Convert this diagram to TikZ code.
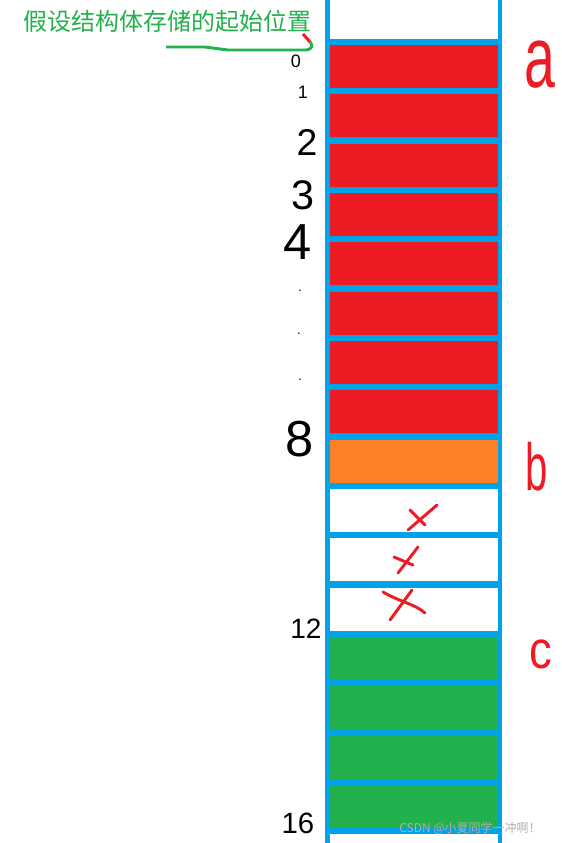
\documentclass[tikz,border=0pt]{standalone}
\usepackage{tikz}
\usetikzlibrary{positioning}
\usepackage{xcolor}
\usepackage{fontspec}
\setmainfont{Liberation Sans}
\newfontfamily\cjk{Noto Sans CJK SC}

\tikzset{
  cellbox/.style={inner sep=0pt, minimum width=126pt, minimum height=32.25pt},
  crossline/.style={line width=2.2pt, color={rgb, 255:red, 237; green, 28; blue, 36 }, line cap=round}
}

\begin{document}
\begin{tikzpicture}[x=0.75pt,y=0.75pt,yscale=-1,xscale=1]
%set diagram left start at 0, and has height of 843
\path[use as bounding box] (0,0) rectangle (561,843);

%Shape: Rectangle [id:dp1046] 
\fill [color={rgb, 255:red, 0; green, 162; blue, 232 }] (325,0) rectangle (502,843) ;
%Shape: Rectangle [id:dp2213] 
\fill [white] (330,0) rectangle (498,39) ;
%Shape: Rectangle [id:dp2871] 
\fill [white] (330,834) rectangle (498,843) ;

%Shape: Rectangle [id:dp3310] 
\node (cell0) [cellbox, fill={rgb, 255:red, 237; green, 28; blue, 36 }] at (414,66.5) {};
%Shape: Rectangle [id:dp3311] 
\node (cell1) [cellbox, fill={rgb, 255:red, 237; green, 28; blue, 36 }] at (414,115.8) {};
%Shape: Rectangle [id:dp3312] 
\node (cell2) [cellbox, fill={rgb, 255:red, 237; green, 28; blue, 36 }] at (414,165.2) {};
%Shape: Rectangle [id:dp3313] 
\node (cell3) [cellbox, fill={rgb, 255:red, 237; green, 28; blue, 36 }] at (414,214.5) {};
%Shape: Rectangle [id:dp3314] 
\node (cell4) [cellbox, fill={rgb, 255:red, 237; green, 28; blue, 36 }] at (414,263.8) {};
%Shape: Rectangle [id:dp3315] 
\node (cell5) [cellbox, fill={rgb, 255:red, 237; green, 28; blue, 36 }] at (414,313.2) {};
%Shape: Rectangle [id:dp3316] 
\node (cell6) [cellbox, fill={rgb, 255:red, 237; green, 28; blue, 36 }] at (414,362.5) {};
%Shape: Rectangle [id:dp3317] 
\node (cell7) [cellbox, fill={rgb, 255:red, 237; green, 28; blue, 36 }] at (414,411.8) {};
%Shape: Rectangle [id:dp3318] 
\node (cell8) [cellbox, fill={rgb, 255:red, 255; green, 127; blue, 39 }] at (414,461.2) {};
%Shape: Rectangle [id:dp3319] 
\node (cell9) [cellbox, fill=white] at (414,510.5) {};
%Shape: Rectangle [id:dp3320] 
\node (cell10) [cellbox, fill=white] at (414,559.8) {};
%Shape: Rectangle [id:dp3321] 
\node (cell11) [cellbox, fill=white] at (414,609.2) {};
%Shape: Rectangle [id:dp3322] 
\node (cell12) [cellbox, fill={rgb, 255:red, 34; green, 177; blue, 76 }] at (414,658.5) {};
%Shape: Rectangle [id:dp3323] 
\node (cell13) [cellbox, fill={rgb, 255:red, 34; green, 177; blue, 76 }] at (414,707.8) {};
%Shape: Rectangle [id:dp3324] 
\node (cell14) [cellbox, fill={rgb, 255:red, 34; green, 177; blue, 76 }] at (414,757.2) {};
%Shape: Rectangle [id:dp3325] 
\node (cell15) [cellbox, fill={rgb, 255:red, 34; green, 177; blue, 76 }] at (414,806.5) {};

%Straight Lines [id:da4410] 
\draw [crossline] (408,530) -- (437,505) ;
\draw [crossline] (410,510) -- (425,525) ;
%Straight Lines [id:da4411] 
\draw [crossline] (398,573) -- (418,547) ;
\draw [crossline] (394,557) -- (413,565) ;
%Straight Lines [id:da4412] 
\draw [crossline] (390,620) -- (412,590) ;
\draw [crossline] (383,592) .. controls (400,602) and (415,604) .. (425,613) ;

% Text Node
\draw (22,21) node [anchor=west][inner sep=0.75pt] (title) [color={rgb, 255:red, 34; green, 177; blue, 76 }] {\cjk\fontsize{18}{20}\selectfont 假设结构体存储的起始位置};
%Curve Lines [id:da5521] 
\coordinate (start) at (166,47) ;
\coordinate (spot) at (310,42) ;
\draw [color={rgb, 255:red, 34; green, 177; blue, 76 }, line width=2.2pt] (start) -- (205,47) -- (228,50) -- (306,50) .. controls (313,49) and (313,45) .. (spot) ;
\draw [color={rgb, 255:red, 237; green, 28; blue, 36 }, line width=2.2pt] (spot) -- (303,34) ;

% Text Node
\draw (296,61) node [inner sep=0.75pt] (n0) {\fontsize{13.5}{14}\selectfont 0};
% Text Node
\draw (303,92) node [inner sep=0.75pt] (n1) {\fontsize{13.5}{14}\selectfont 1};
% Text Node
\draw (307,142) node [inner sep=0.75pt] (n2) {\fontsize{28}{30}\selectfont 2};
% Text Node
\draw (303,195) node [inner sep=0.75pt] (n3) {\fontsize{31}{33}\selectfont 3};
% Text Node
\draw (298,242) node [inner sep=0.75pt] (n4) {\fontsize{38}{40}\selectfont 4};
% Text Node
\draw (300,291) node [inner sep=0.75pt] (d1) {.};
% Text Node
\draw (299,334) node [inner sep=0.75pt] (d2) {.};
% Text Node
\draw (300,380) node [inner sep=0.75pt] (d3) {.};
% Text Node
\draw (300,439) node [inner sep=0.75pt] (n8) {\fontsize{38}{40}\selectfont 8};
% Text Node
\draw (306,629) node [inner sep=0.75pt] (n12) {\fontsize{21}{22}\selectfont 12};
% Text Node
\draw (298,823) node [inner sep=0.75pt] (n16) {\fontsize{22}{24}\selectfont 16};

% Text Node
\draw (540,65) node [inner sep=0.75pt] (la) [color={rgb, 255:red, 237; green, 28; blue, 36 }] {\scalebox{0.8}[1.25]{\fontsize{52}{54}\selectfont a}};
% Text Node
\draw (537,467) node [inner sep=0.75pt] (lb) [color={rgb, 255:red, 237; green, 28; blue, 36 }] {\scalebox{0.6}[1]{\fontsize{50}{52}\selectfont b}};
% Text Node
\draw (541,654) node [inner sep=0.75pt] (lc) [color={rgb, 255:red, 237; green, 28; blue, 36 }] {\scalebox{0.85}[1]{\fontsize{40}{42}\selectfont c}};

% Text Node
\draw (398,828) node [anchor=west][inner sep=0.75pt] (wm) [color={rgb, 255:red, 175; green, 175; blue, 175 }] {\cjk\fontsize{9}{10}\selectfont CSDN @小夏同学一冲啊！};

\end{tikzpicture}
\end{document}
